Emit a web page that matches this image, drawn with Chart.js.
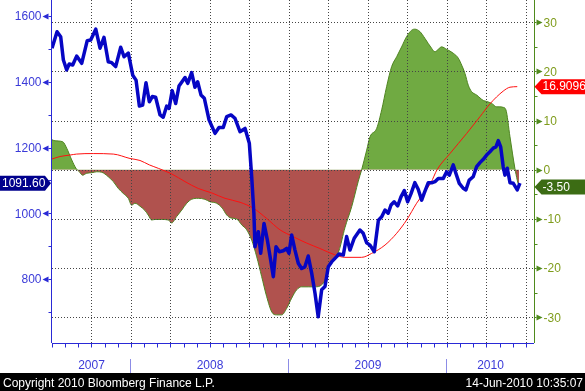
<!DOCTYPE html>
<html>
<head>
<meta charset="utf-8">
<script src="https://cdn.jsdelivr.net/npm/chart.js@4.4.0/dist/chart.umd.min.js"></script>
<style>
  html, body { margin: 0; padding: 0; background: #fff; }
  canvas { display: block; }
</style>
</head>
<body>
<canvas id="chart" width="585" height="391"></canvas>
<script>
// Index level, weekly (left axis). Dates are decimal years.
const spxDates = [
  2007.500, 2007.532, 2007.555, 2007.572, 2007.593, 2007.609, 2007.631, 2007.656, 2007.688, 2007.723,
  2007.745, 2007.777, 2007.804, 2007.829, 2007.856, 2007.878, 2007.903, 2007.935, 2007.956, 2007.983,
  2008.011, 2008.032, 2008.053, 2008.074, 2008.095, 2008.116, 2008.135, 2008.156, 2008.184, 2008.204,
  2008.226, 2008.241, 2008.261, 2008.283, 2008.304, 2008.342, 2008.359, 2008.384, 2008.405, 2008.422,
  2008.443, 2008.464, 2008.494, 2008.532, 2008.557, 2008.584, 2008.606, 2008.633, 2008.658, 2008.690,
  2008.722, 2008.749, 2008.764, 2008.778, 2008.785, 2008.806, 2008.821, 2008.842, 2008.863, 2008.884,
  2008.901, 2008.918, 2008.939, 2008.964, 2008.985, 2009.000, 2009.017, 2009.038, 2009.059, 2009.080,
  2009.101, 2009.122, 2009.144, 2009.165, 2009.185, 2009.207, 2009.228, 2009.249, 2009.270, 2009.302,
  2009.316, 2009.344, 2009.365, 2009.386, 2009.413, 2009.449, 2009.470, 2009.492, 2009.513, 2009.540,
  2009.566, 2009.587, 2009.608, 2009.628, 2009.646, 2009.666, 2009.688, 2009.709, 2009.730, 2009.751,
  2009.772, 2009.797, 2009.818, 2009.840, 2009.856, 2009.882, 2009.907, 2009.924, 2009.945, 2009.977,
  2009.998, 2010.015, 2010.040, 2010.057, 2010.078, 2010.103, 2010.120, 2010.141, 2010.166, 2010.188,
  2010.209, 2010.230, 2010.251, 2010.272, 2010.293, 2010.310, 2010.325, 2010.340, 2010.356, 2010.367,
  2010.382, 2010.399, 2010.420, 2010.445, 2010.462
];
const spxValues = [
  1502, 1552, 1537, 1466, 1436, 1454, 1451, 1478, 1456, 1525,
  1527, 1560, 1502, 1535, 1461, 1458, 1446, 1505, 1476, 1487,
  1420, 1405, 1326, 1329, 1397, 1339, 1355, 1353, 1299, 1292,
  1326, 1319, 1373, 1334, 1387, 1413, 1395, 1428, 1383, 1400,
  1360, 1350, 1284, 1243, 1261, 1261, 1294, 1299, 1289, 1248,
  1258, 1213, 1111, 1000, 898, 944, 878, 969, 919, 858,
  807, 898, 883, 886, 893, 878, 934, 888, 848, 832,
  837, 870, 817, 756, 685, 767, 777, 837, 852, 868,
  876, 873, 929, 888, 924, 949, 939, 910, 903, 883,
  979, 989, 1010, 1000, 1025, 1035, 1022, 1050, 1069, 1035,
  1059, 1093, 1073, 1040, 1061, 1093, 1093, 1096, 1106, 1106,
  1126, 1116, 1147, 1121, 1091, 1076, 1071, 1101, 1111, 1142,
  1154, 1164, 1177, 1187, 1198, 1202, 1221, 1202, 1142, 1116,
  1137, 1093, 1091, 1071, 1091.60
];

// Oscillator, filled against zero (right axis)
const oscDates = [
  2007.500, 2007.519, 2007.568, 2007.593, 2007.625, 2007.652, 2007.673, 2007.694, 2007.720, 2007.751,
  2007.783, 2007.815, 2007.856, 2007.888, 2007.920, 2007.951, 2007.983, 2008.004, 2008.025, 2008.057,
  2008.089, 2008.109, 2008.131, 2008.152, 2008.194, 2008.236, 2008.258, 2008.289, 2008.321, 2008.353,
  2008.384, 2008.426, 2008.468, 2008.500, 2008.542, 2008.578, 2008.606, 2008.633, 2008.669, 2008.701,
  2008.732, 2008.764, 2008.796, 2008.827, 2008.859, 2008.891, 2008.922, 2008.954, 2008.985, 2009.017,
  2009.049, 2009.080, 2009.122, 2009.165, 2009.207, 2009.228, 2009.249, 2009.280, 2009.316, 2009.354,
  2009.397, 2009.439, 2009.460, 2009.492, 2009.513, 2009.555, 2009.587, 2009.618, 2009.650, 2009.682,
  2009.713, 2009.745, 2009.777, 2009.797, 2009.829, 2009.861, 2009.903, 2009.924, 2009.945, 2009.966,
  2009.998, 2010.040, 2010.072, 2010.093, 2010.114, 2010.135, 2010.156, 2010.188, 2010.230, 2010.251,
  2010.283, 2010.315, 2010.335, 2010.356, 2010.373, 2010.399, 2010.430, 2010.445, 2010.456
];
const oscValues = [
  6.1, 5.9, 5.7, 4.4, 2.0, 0.3, -0.4, -1.1, -0.7, -0.6,
  -0.4, -0.5, -1.4, -2.4, -3.8, -4.8, -5.8, -7.2, -6.8, -7.4,
  -8.3, -9.2, -10.2, -10.1, -10.1, -10.2, -10.8, -9.5, -8.2, -6.8,
  -6.0, -5.8, -6.0, -6.5, -6.8, -7.8, -9.2, -9.8, -10.0, -11.2,
  -12.2, -14.3, -17.7, -21.7, -25.8, -28.9, -29.5, -29.5, -28.2, -26.1,
  -24.4, -23.8, -23.8, -23.8, -23.4, -22.4, -20.0, -18.3, -16.5, -11.8,
  -7.5, -2.3, 0.0, 4.0, 6.7, 8.4, 12.2, 16.9, 21.0, 23.0,
  25.0, 27.1, 28.4, 28.6, 28.1, 26.7, 24.7, 24.0, 24.5, 25.0,
  24.5, 23.7, 22.7, 21.3, 19.6, 17.2, 15.9, 15.2, 14.1, 13.9,
  13.5, 12.8, 12.8, 12.7, 12.2, 6.7, 0.3, -2.1, -3.50
];

// Red average line (right axis)
const avgDates = [
  2007.500, 2007.551, 2007.614, 2007.656, 2007.761, 2007.888, 2007.994, 2008.057, 2008.116, 2008.173,
  2008.258, 2008.342, 2008.426, 2008.511, 2008.595, 2008.690, 2008.774, 2008.859, 2008.943, 2009.027,
  2009.112, 2009.196, 2009.291, 2009.354, 2009.460, 2009.523, 2009.608, 2009.682, 2009.745, 2009.808,
  2009.861, 2009.899, 2009.937, 2010.019, 2010.125, 2010.209, 2010.272, 2010.356, 2010.399, 2010.445
];
const avgValues = [
  2.2, 2.7, 3.0, 3.2, 3.3, 3.2, 2.3, 1.9, 1.0, 0.3,
  -0.85, -2.4, -3.8, -4.7, -5.8, -6.6, -7.8, -9.9, -12.2, -13.6,
  -14.9, -16.0, -17.3, -17.8, -17.8, -17.0, -15.3, -12.9, -10.2, -6.8,
  -4.4, -2.6, 0.0, 3.3, 7.4, 10.8, 13.4, 16.0, 16.8, 16.9096
];

const leftTicks = [800, 1000, 1200, 1400, 1600];
const leftMinor = [700, 900, 1100, 1300, 1500];
const rightTicks = [30, 20, 10, 0, -10, -20, -30];
const rightMinor = [25, 15, 5, -5, -15, -25];
const years = [2007, 2008, 2009, 2010];

const FONT = '12px "Liberation Sans", Arial, sans-serif';
const BLUE_TXT = '#3a3ad8';
const GREEN_TXT = '#7f9c1c';

const pts = (xs, ys) => xs.map((x, i) => ({ x: x, y: ys[i] }));

function tagRight(ctx, px, py, text, fill) {
  ctx.beginPath();
  ctx.moveTo(px, py);
  ctx.lineTo(px + 7, py - 7.5);
  ctx.lineTo(585, py - 7.5);
  ctx.lineTo(585, py + 7.5);
  ctx.lineTo(px + 7, py + 7.5);
  ctx.closePath();
  ctx.fillStyle = fill;
  ctx.fill();
  ctx.fillStyle = '#fff';
  ctx.textAlign = 'left';
  ctx.textBaseline = 'middle';
  ctx.fillText(text, px + 8, py + 0.5);
}

const decor = {
  id: 'decor',
  // dotted grid drawn over the filled area, under the lines
  afterDatasetDraw(chart, args) {
    if (args.index !== 0) return;
    const { ctx, chartArea: a, scales: { x, yR } } = chart;
    ctx.save();
    ctx.strokeStyle = '#454545';
    ctx.lineWidth = 1;
    ctx.setLineDash([1, 2]);
    ctx.beginPath();
    rightTicks.forEach(v => {
      const py = Math.round(yR.getPixelForValue(v)) + 0.5;
      ctx.moveTo(a.left, py);
      ctx.lineTo(a.right, py);
    });
    for (let q = 2007.75; q < x.max; q += 0.25) {
      const px = Math.round(x.getPixelForValue(q)) + 0.5;
      ctx.moveTo(px, a.top);
      ctx.lineTo(px, a.bottom);
    }
    ctx.stroke();
    ctx.restore();
  },
  afterDraw(chart) {
    const { ctx, chartArea: a, scales: { x, yL, yR } } = chart;
    ctx.save();
    ctx.font = FONT;
    ctx.lineWidth = 1;

    // left axis
    const lx = a.left - 0.5;
    ctx.strokeStyle = '#2a2ad6';
    ctx.beginPath();
    ctx.moveTo(lx, a.top);
    ctx.lineTo(lx, a.bottom);
    leftMinor.forEach(v => {
      const py = Math.round(yL.getPixelForValue(v)) + 0.5;
      ctx.moveTo(lx - 3, py);
      ctx.lineTo(lx, py);
    });
    ctx.stroke();
    ctx.fillStyle = '#2a2ad6';
    leftTicks.forEach(v => {
      const py = Math.round(yL.getPixelForValue(v)) + 0.5;
      ctx.beginPath();
      ctx.moveTo(lx - 9, py);
      ctx.lineTo(lx - 3, py - 3);
      ctx.lineTo(lx - 3, py + 3);
      ctx.closePath();
      ctx.fill();
      ctx.fillRect(lx - 3, py - 0.5, 3, 1);
    });
    ctx.fillStyle = BLUE_TXT;
    ctx.textAlign = 'right';
    ctx.textBaseline = 'middle';
    leftTicks.forEach(v => ctx.fillText(String(v), lx - 10, yL.getPixelForValue(v) + 1));

    // right axis
    const rx = a.right + 0.5;
    ctx.strokeStyle = '#4f8a1c';
    ctx.beginPath();
    ctx.moveTo(rx, a.top);
    ctx.lineTo(rx, a.bottom);
    rightMinor.forEach(v => {
      const py = Math.round(yR.getPixelForValue(v)) + 0.5;
      ctx.moveTo(rx, py);
      ctx.lineTo(rx + 3, py);
    });
    ctx.stroke();
    ctx.fillStyle = '#4f8a1c';
    rightTicks.forEach(v => {
      const py = Math.round(yR.getPixelForValue(v)) + 0.5;
      ctx.beginPath();
      ctx.moveTo(rx + 8, py);
      ctx.lineTo(rx + 2, py - 3);
      ctx.lineTo(rx + 2, py + 3);
      ctx.closePath();
      ctx.fill();
      ctx.fillRect(rx, py - 0.5, 2, 1);
    });
    ctx.fillStyle = GREEN_TXT;
    ctx.textAlign = 'left';
    rightTicks.forEach(v => ctx.fillText(String(v), rx + 9, yR.getPixelForValue(v) + 1));

    // bottom axis with monthly ticks
    const by = a.bottom + 0.5;
    ctx.strokeStyle = '#2a2ad6';
    ctx.beginPath();
    ctx.moveTo(a.left, by);
    ctx.lineTo(a.right, by);
    for (let m = 0; x.min + m / 12 <= x.max; m++) {
      const px = Math.round(x.getPixelForValue(x.min + m / 12)) + 0.5;
      ctx.moveTo(px, by);
      ctx.lineTo(px, by + 4);
    }
    ctx.stroke();

    // year labels and separators
    ctx.fillStyle = BLUE_TXT;
    ctx.textAlign = 'center';
    years.forEach(yr => {
      const x0 = x.getPixelForValue(Math.max(yr, x.min));
      const x1 = x.getPixelForValue(Math.min(yr + 1, x.max));
      ctx.fillText(String(yr), (x0 + x1) / 2, 366);
    });
    ctx.strokeStyle = '#8c8ce6';
    ctx.beginPath();
    years.slice(1).forEach(yr => {
      const px = Math.round(x.getPixelForValue(yr)) - 0.5;
      ctx.moveTo(px, 359);
      ctx.lineTo(px, 373);
    });
    ctx.stroke();

    // last value tags
    const lastSpx = spxValues[spxValues.length - 1];
    const ly = yL.getPixelForValue(lastSpx);
    ctx.beginPath();
    ctx.moveTo(0, ly - 7.5);
    ctx.lineTo(45, ly - 7.5);
    ctx.lineTo(51, ly);
    ctx.lineTo(45, ly + 7.5);
    ctx.lineTo(0, ly + 7.5);
    ctx.closePath();
    ctx.fillStyle = '#00008c';
    ctx.fill();
    ctx.fillStyle = '#fff';
    ctx.textAlign = 'left';
    ctx.fillText(lastSpx.toFixed(2), 2, ly + 0.5);

    const lastAvg = avgValues[avgValues.length - 1];
    tagRight(ctx, rx, yR.getPixelForValue(lastAvg), lastAvg.toFixed(4), '#ff0000');
    const lastOsc = oscValues[oscValues.length - 1];
    tagRight(ctx, rx, yR.getPixelForValue(lastOsc), lastOsc.toFixed(2), '#3c6c14');

    // footer bar
    ctx.fillStyle = '#000';
    ctx.fillRect(0, 373, 585, 18);
    ctx.fillStyle = '#fff';
    ctx.textBaseline = 'alphabetic';
    ctx.textAlign = 'left';
    ctx.fillText('Copyright 2010 Bloomberg Finance L.P.', 3, 387);
    ctx.textAlign = 'right';
    ctx.fillText('14-Jun-2010 10:35:07', 583, 387);
    ctx.restore();
  }
};

new Chart(document.getElementById('chart'), {
  type: 'line',
  data: {
    datasets: [
      {
        data: pts(oscDates, oscValues),
        yAxisID: 'yR',
        borderColor: '#4e8420',
        borderWidth: 1,
        pointRadius: 0,
        cubicInterpolationMode: 'monotone',
        fill: { target: { value: 0 }, above: '#70aa42', below: '#b0524e' },
        order: 3
      },
      {
        data: pts(avgDates, avgValues),
        yAxisID: 'yR',
        borderColor: '#ff1010',
        borderWidth: 1,
        pointRadius: 0,
        cubicInterpolationMode: 'monotone',
        fill: false,
        order: 2
      },
      {
        data: pts(spxDates, spxValues),
        yAxisID: 'yL',
        borderColor: '#0606c4',
        borderWidth: 3.5,
        borderJoinStyle: 'round',
        pointRadius: 0,
        tension: 0,
        fill: false,
        order: 1
      }
    ]
  },
  options: {
    responsive: false,
    animation: false,
    devicePixelRatio: 1,
    layout: { padding: { left: 52, right: 51, top: 0, bottom: 48 } },
    plugins: { legend: { display: false }, tooltip: { enabled: false } },
    scales: {
      x: { type: 'linear', min: 2007.5, max: 2010.551, display: false },
      yL: { type: 'linear', position: 'left', min: 605.3, max: 1648.7, display: false },
      yR: { type: 'linear', position: 'right', min: -35.22, max: 34.53, display: false }
    }
  },
  plugins: [decor]
});
</script>
</body>
</html>
